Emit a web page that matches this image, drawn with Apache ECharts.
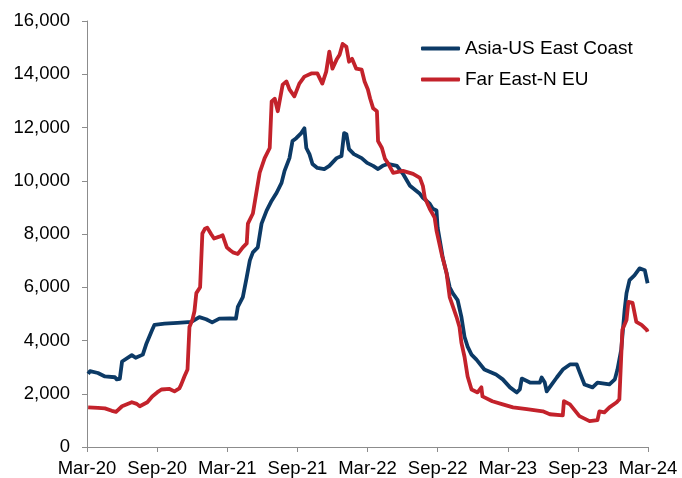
<!DOCTYPE html>
<html>
<head>
<meta charset="utf-8">
<script src="https://cdn.jsdelivr.net/npm/echarts@6/dist/echarts.min.js"></script>
<style>
  html, body { margin: 0; padding: 0; background: #fff; }
  #chart { width: 682px; height: 478px; }
</style>
</head>
<body>
<div id="chart"></div>
<script>
// Container freight rates, USD per 40ft container (weekly readings)
const seriesNames = ['Asia-US East Coast', 'Far East-N EU'];

const asiaUsEastCoast = [
  ['2020-03-04', 2750], ['2020-03-09', 2850], ['2020-03-14', 2800], ['2020-03-30', 2780],
  ['2020-04-17', 2650], ['2020-05-13', 2620], ['2020-05-18', 2540], ['2020-05-26', 2560],
  ['2020-06-01', 3210], ['2020-06-26', 3450], ['2020-07-06', 3350], ['2020-07-11', 3280],
  ['2020-07-25', 3470], ['2020-08-04', 3900], ['2020-08-19', 4400], ['2020-08-25', 4590],
  ['2020-09-20', 4630], ['2020-10-24', 4660], ['2020-11-29', 4700], ['2020-12-20', 4880],
  ['2021-01-07', 4800], ['2021-01-23', 4680], ['2021-02-10', 4820], ['2021-03-08', 4830],
  ['2021-03-24', 4820], ['2021-03-29', 5260], ['2021-04-11', 5630], ['2021-04-21', 6380],
  ['2021-04-29', 7010], ['2021-05-07', 7310], ['2021-05-20', 7500], ['2021-05-30', 8390],
  ['2021-06-12', 8880], ['2021-06-25', 9250], ['2021-07-08', 9550], ['2021-07-21', 9920],
  ['2021-07-29', 10370], ['2021-08-11', 10850], ['2021-08-19', 11490], ['2021-08-29', 11600],
  ['2021-09-11', 11790], ['2021-09-19', 11970], ['2021-09-24', 11230], ['2021-10-02', 11000],
  ['2021-10-10', 10630], ['2021-10-23', 10480], ['2021-11-10', 10440], ['2021-11-23', 10560],
  ['2021-12-12', 10850], ['2021-12-25', 10930], ['2022-01-01', 11790], ['2022-01-07', 11750],
  ['2022-01-14', 11190], ['2022-01-27', 11000], ['2022-02-15', 10850], ['2022-02-28', 10670],
  ['2022-03-16', 10560], ['2022-03-29', 10440], ['2022-04-10', 10560], ['2022-04-23', 10630],
  ['2022-05-17', 10560], ['2022-06-02', 10260], ['2022-06-20', 9810], ['2022-07-16', 9510],
  ['2022-07-24', 9360], ['2022-08-11', 9140], ['2022-08-19', 8950], ['2022-08-29', 8880],
  ['2022-09-01', 8240], ['2022-09-11', 7390], ['2022-09-14', 7120], ['2022-09-24', 6530],
  ['2022-10-02', 6000], ['2022-10-10', 5780], ['2022-10-23', 5520], ['2022-11-02', 4890],
  ['2022-11-10', 4140], ['2022-11-18', 3770], ['2022-11-28', 3470], ['2022-12-11', 3280],
  ['2023-01-01', 2910], ['2023-02-01', 2720], ['2023-02-17', 2540], ['2023-03-07', 2240],
  ['2023-03-25', 2050], ['2023-04-02', 2160], ['2023-04-07', 2570], ['2023-04-28', 2420],
  ['2023-05-24', 2420], ['2023-05-29', 2610], ['2023-06-06', 2420], ['2023-06-11', 2090],
  ['2023-06-24', 2350], ['2023-07-07', 2610], ['2023-07-23', 2910], ['2023-08-11', 3100],
  ['2023-08-29', 3100], ['2023-09-05', 2830], ['2023-09-18', 2350], ['2023-10-09', 2240],
  ['2023-10-22', 2420], ['2023-11-22', 2350], ['2023-12-06', 2540], ['2023-12-13', 2910],
  ['2023-12-23', 3660], ['2024-01-01', 5150], ['2024-01-06', 5780], ['2024-01-14', 6270],
  ['2024-01-27', 6450], ['2024-02-09', 6710], ['2024-02-22', 6640], ['2024-02-29', 6150]
];

const farEastNorthEurope = [
  ['2020-03-04', 1490], ['2020-03-30', 1470], ['2020-04-17', 1450], ['2020-05-05', 1360],
  ['2020-05-16', 1320], ['2020-06-01', 1530], ['2020-06-26', 1680], ['2020-07-09', 1620],
  ['2020-07-17', 1530], ['2020-08-06', 1680], ['2020-08-19', 1900], ['2020-09-01', 2050],
  ['2020-09-12', 2160], ['2020-10-03', 2180], ['2020-10-16', 2090], ['2020-10-29', 2200],
  ['2020-11-03', 2350], ['2020-11-11', 2650], ['2020-11-19', 2910], ['2020-11-24', 4510],
  ['2020-12-02', 4800], ['2020-12-07', 5100], ['2020-12-12', 5780], ['2020-12-22', 6000],
  ['2020-12-28', 8020], ['2021-01-04', 8200], ['2021-01-10', 8240], ['2021-01-20', 8000],
  ['2021-01-28', 7830], ['2021-02-10', 7900], ['2021-02-18', 7950], ['2021-02-28', 7500],
  ['2021-03-08', 7400], ['2021-03-16', 7310], ['2021-03-29', 7250], ['2021-04-03', 7200],
  ['2021-04-11', 7500], ['2021-04-21', 7650], ['2021-04-24', 8390], ['2021-05-07', 8770],
  ['2021-05-17', 9620], ['2021-05-25', 10300], ['2021-06-07', 10850], ['2021-06-20', 11230],
  ['2021-06-25', 12980], ['2021-07-03', 13080], ['2021-07-11', 12610], ['2021-07-24', 13610],
  ['2021-08-03', 13730], ['2021-08-11', 13430], ['2021-08-24', 13170], ['2021-09-06', 13650],
  ['2021-09-19', 13910], ['2021-10-07', 14030], ['2021-10-23', 14030], ['2021-11-05', 13650],
  ['2021-11-15', 14100], ['2021-11-23', 14850], ['2021-12-01', 14210], ['2021-12-12', 14550],
  ['2021-12-20', 14730], ['2021-12-28', 15140], ['2022-01-07', 15030], ['2022-01-14', 14470],
  ['2022-01-22', 14580], ['2022-02-02', 14210], ['2022-02-15', 14170], ['2022-02-22', 13730],
  ['2022-03-02', 13430], ['2022-03-08', 13090], ['2022-03-16', 12720], ['2022-03-26', 12610],
  ['2022-03-29', 11490], ['2022-04-08', 11230], ['2022-04-16', 10820], ['2022-04-23', 10670],
  ['2022-05-07', 10300], ['2022-06-02', 10370], ['2022-06-28', 10260], ['2022-07-16', 10110],
  ['2022-07-24', 9800], ['2022-07-29', 9360], ['2022-08-11', 8950], ['2022-08-24', 8620],
  ['2022-08-29', 8130], ['2022-09-11', 7270], ['2022-09-24', 6530], ['2022-10-02', 5630],
  ['2022-10-20', 4890], ['2022-10-28', 4510], ['2022-11-02', 3920], ['2022-11-10', 3390],
  ['2022-11-18', 2650], ['2022-11-28', 2160], ['2022-12-14', 2050], ['2022-12-24', 2240],
  ['2022-12-27', 1900], ['2023-01-22', 1720], ['2023-02-17', 1600], ['2023-03-15', 1490],
  ['2023-04-20', 1420], ['2023-06-01', 1340], ['2023-06-19', 1230], ['2023-07-23', 1190],
  ['2023-07-26', 1720], ['2023-08-11', 1600], ['2023-09-05', 1160], ['2023-10-01', 970],
  ['2023-10-22', 1010], ['2023-10-27', 1340], ['2023-11-09', 1300], ['2023-11-22', 1490],
  ['2023-12-11', 1680], ['2023-12-18', 1790], ['2023-12-26', 4400], ['2024-01-06', 4770],
  ['2024-01-11', 5450], ['2024-01-22', 5410], ['2024-02-01', 4700], ['2024-02-14', 4590],
  ['2024-02-27', 4400], ['2024-02-29', 4330]
];

const xTickLabels = ['Mar-20', 'Sep-20', 'Mar-21', 'Sep-21', 'Mar-22', 'Sep-22', 'Mar-23', 'Sep-23', 'Mar-24'];

const seriesColors = ['#0c3a66', '#c3222b'];
const FONT = 'Arial, "Liberation Sans", sans-serif';

// The x axis runs in months counted from 1 March 2020, so six-month ticks stay on Mar/Sep.
function monthsSinceStart(dateStr) {
  const [y, m, d] = dateStr.split('-').map(Number);
  const daysInMonth = new Date(Date.UTC(y, m, 0)).getUTCDate();
  return (y - 2020) * 12 + (m - 3) + (d - 1) / daysInMonth;
}
const toPoints = rows => rows.map(([date, v]) => [monthsSinceStart(date), v]);

const chart = echarts.init(document.getElementById('chart'), null, { renderer: 'canvas' });

chart.setOption({
  animation: false,
  backgroundColor: '#fff',
  textStyle: { fontFamily: FONT },
  grid: { left: 87, right: 34, top: 21, bottom: 30, containLabel: false },
  legend: {
    orient: 'vertical',
    left: 416,
    top: 34,
    itemWidth: 39,
    itemHeight: 4,
    itemGap: 12,
    icon: 'roundRect',
    textStyle: { fontFamily: FONT, fontSize: 19, color: '#000' },
    data: seriesNames
  },
  xAxis: {
    type: 'value',
    min: 0,
    max: 48,
    interval: 6,
    axisLine: { show: true, lineStyle: { color: '#8c8c8c', width: 1 } },
    axisTick: { show: true, length: 5, lineStyle: { color: '#8c8c8c' } },
    splitLine: { show: false },
    axisLabel: {
      fontFamily: FONT, fontSize: 18.5, color: '#000', margin: 12,
      formatter: v => xTickLabels[Math.round(v / 6)] || ''
    }
  },
  yAxis: {
    type: 'value',
    min: 0,
    max: 16000,
    interval: 2000,
    axisLine: { show: true, lineStyle: { color: '#8c8c8c', width: 1 } },
    axisTick: { show: true, length: 5, lineStyle: { color: '#8c8c8c' } },
    splitLine: { show: false },
    axisLabel: {
      fontFamily: FONT, fontSize: 18.5, color: '#000', margin: 17,
      formatter: v => v.toLocaleString('en-US')
    }
  },
  series: [
    {
      name: seriesNames[0],
      type: 'line',
      data: toPoints(asiaUsEastCoast),
      showSymbol: false,
      color: seriesColors[0],
      lineStyle: { width: 3.8, color: seriesColors[0], join: 'round' }
    },
    {
      name: seriesNames[1],
      type: 'line',
      data: toPoints(farEastNorthEurope),
      showSymbol: false,
      color: seriesColors[1],
      lineStyle: { width: 3.8, color: seriesColors[1], join: 'round' }
    }
  ]
});
</script>
</body>
</html>
